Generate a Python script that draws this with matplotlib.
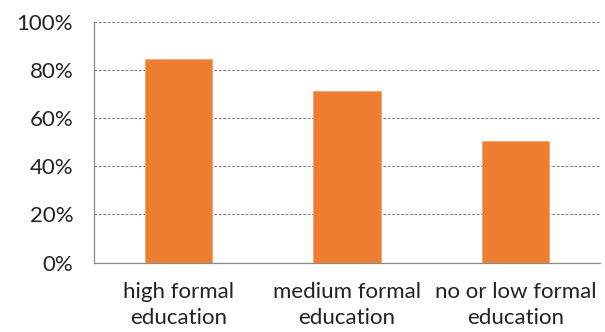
import matplotlib
matplotlib.use("Agg")
import matplotlib.pyplot as plt
from matplotlib.ticker import FuncFormatter

categories = ["high formal\neducation", "medium formal\neducation", "no or low formal\neducation"]
shares = [84.6, 71.3, 50.4]
yticks = [0, 20, 40, 60, 80, 100]

plt.rcParams["font.family"] = ["Lato", "DejaVu Sans"]

fig = plt.figure(figsize=(6.05, 3.32), dpi=100)
ax = fig.add_axes([0.1554, 0.2093, 0.8363, 0.7244])

x = list(range(len(categories)))
ax.bar(x, shares, width=0.40, color="#ED7D31", edgecolor="#F4A46E", linewidth=0.6, zorder=3)

ax.set_xlim(-0.5, len(categories) - 0.5)
ax.set_ylim(0, 100)
ax.set_yticks(yticks)
ax.yaxis.set_major_formatter(FuncFormatter(lambda v, _: f"{v:.0f}%"))
ax.set_xticks(x)
ax.set_xticklabels(categories, fontsize=16, color="#222222", linespacing=1.4)

ax.grid(axis="y", linestyle=(0, (2.5, 1.5)), color="#7f7f7f", linewidth=0.8, zorder=0)
ax.tick_params(axis="y", length=0, pad=15, labelsize=16, labelcolor="#222222")
ax.tick_params(axis="x", length=0, pad=14)

for side in ("top", "right"):
    ax.spines[side].set_visible(False)
for side in ("left", "bottom"):
    ax.spines[side].set_color("#8c8c8c")
    ax.spines[side].set_linewidth(0.9)

fig.savefig("out.png", dpi=100)
